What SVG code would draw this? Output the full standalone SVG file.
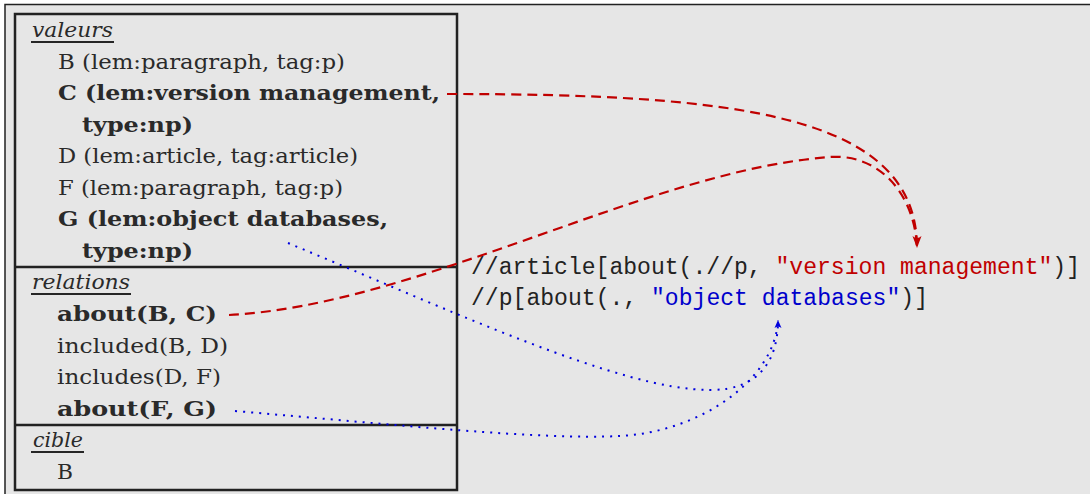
<svg xmlns="http://www.w3.org/2000/svg" width="1090" height="494" viewBox="0 0 1090 494">
<style>
.s{font-family:"DejaVu Serif","Liberation Serif",serif;font-size:21px;fill:#2a2a2a}
.b{font-weight:bold}
.i{font-style:italic}
.m{font-family:"Liberation Mono","DejaVu Sans Mono",monospace;font-size:23px;fill:#222}
.red{fill:#c00000}
.blue{fill:#0000cc}
.ul{stroke:#262626;stroke-width:2}
.box{fill:none;stroke:#222;stroke-width:2.5}
.rc{fill:none;stroke:#c00000;stroke-width:2.2;stroke-dasharray:10,6}
.bc{fill:none;stroke:#0000dd;stroke-width:2;stroke-dasharray:2,6}
</style>
<defs>
<marker id="arrRed" markerUnits="userSpaceOnUse" markerWidth="16" markerHeight="14" viewBox="-13 -7 14 14" refX="0" refY="0" orient="auto">
<path d="M0,0 L-12,-4.5 Q-8,0 -12,4.5 Z" fill="#c00000"/>
</marker>
<marker id="arrBlue" markerUnits="userSpaceOnUse" markerWidth="12" markerHeight="10" viewBox="-9 -5 10 10" refX="0" refY="0" orient="auto">
<path d="M0,0 L-8,-3.5 Q-5,0 -8,3.5 Z" fill="#0000dd"/>
</marker>
</defs>
<rect x="0" y="0" width="1090" height="494" fill="#ffffff"/>
<rect x="5" y="4.5" width="1090" height="495" fill="#e6e6e6"/>
<path d="M5,494 V4.5 H1090" fill="none" stroke="#222" stroke-width="1.5"/>

<g id="box">
<rect class="box" x="15" y="14" width="442" height="476"/>
<line class="box" x1="15" y1="267" x2="457" y2="267"/>
<line class="box" x1="15" y1="425" x2="457" y2="425"/>
</g>

<g id="valeurs">
<text class="s i" x="32" y="37" textLength="81" lengthAdjust="spacingAndGlyphs">valeurs</text>
<line class="ul" x1="31" y1="42" x2="114" y2="42"/>
<text class="s" x="58" y="69" textLength="287" lengthAdjust="spacingAndGlyphs">B (lem:paragraph, tag:p)</text>
<text class="s b" x="58" y="100" textLength="382" lengthAdjust="spacingAndGlyphs">C (lem:version management,</text>
<text class="s b" x="82" y="132" textLength="111" lengthAdjust="spacingAndGlyphs">type:np)</text>
<text class="s" x="58" y="163" textLength="300" lengthAdjust="spacingAndGlyphs">D (lem:article, tag:article)</text>
<text class="s" x="58" y="195" textLength="285" lengthAdjust="spacingAndGlyphs">F (lem:paragraph, tag:p)</text>
<text class="s b" x="58" y="226" textLength="330" lengthAdjust="spacingAndGlyphs">G (lem:object databases,</text>
<text class="s b" x="82" y="258" textLength="111" lengthAdjust="spacingAndGlyphs">type:np)</text>
</g>

<g id="relations">
<text class="s i" x="32" y="289" textLength="98" lengthAdjust="spacingAndGlyphs">relations</text>
<line class="ul" x1="31" y1="294" x2="131" y2="294"/>
<text class="s b" x="57" y="321" textLength="160" lengthAdjust="spacingAndGlyphs">about(B, C)</text>
<text class="s" x="57" y="353" textLength="171" lengthAdjust="spacingAndGlyphs">included(B, D)</text>
<text class="s" x="57" y="384" textLength="164" lengthAdjust="spacingAndGlyphs">includes(D, F)</text>
<text class="s b" x="57" y="416" textLength="160" lengthAdjust="spacingAndGlyphs">about(F, G)</text>
</g>

<g id="cible">
<text class="s i" x="33" y="447" textLength="50" lengthAdjust="spacingAndGlyphs">cible</text>
<line class="ul" x1="31" y1="452" x2="84" y2="452"/>
<text class="s" x="57" y="479" textLength="16" lengthAdjust="spacingAndGlyphs">B</text>
</g>

<g id="query1">
<text class="m" x="471" y="274" textLength="609" lengthAdjust="spacingAndGlyphs">//article[about(.//p, <tspan class="red">"version management"</tspan>)]</text>
</g>
<g id="query2">
<text class="m" x="471" y="305" textLength="457" lengthAdjust="spacingAndGlyphs">//p[about(., <tspan class="blue">"object databases"</tspan>)]</text>
</g>

<g id="connectors">
<path class="rc" d="M447,94 C740,94 917,115 917,248" marker-end="url(#arrRed)"/>
<path class="rc" d="M229,315 C420,305 650,170 830,157 C880,153.5 915,195 917,248"/>
<path class="bc" d="M288,243 C450,310 620,390 710,390 C760,390 778,360 778,320" marker-end="url(#arrBlue)"/>
<path class="bc" d="M235,411 C400,425 540,440 620,436 C700,432 775,380 778,320"/>
</g>
</svg>
